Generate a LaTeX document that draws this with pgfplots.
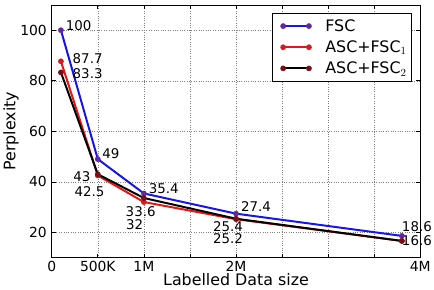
\documentclass[border=0pt]{standalone}
\usepackage{fontspec}
\setmainfont{DejaVu Sans}
\usepackage{pgfplots}
\pgfplotsset{compat=1.18}

\definecolor{fscline}{RGB}{20,20,235}
\definecolor{fscmark}{RGB}{95,40,160}
\definecolor{ascone}{RGB}{235,20,20}
\definecolor{asconemark}{RGB}{215,25,30}
\definecolor{asctwomark}{RGB}{120,15,20}

\begin{document}
\begin{tikzpicture}
\begin{axis}[
  scale only axis,
  width=372bp, height=255bp,
  xmin=0, xmax=4, ymin=10, ymax=110,
  xtick={0,0.5,1,1.5,2,2.5,3,3.5,4},
  xticklabels={0,500K,1M,,2M,,,,4M},
  ytick={20,40,60,80,100},
  /pgf/number format/assume math mode=true,
  tick align=inside,
  major tick length=4bp,
  tick style={black, line width=0.6bp},
  axis line style={line width=0.9bp},
  grid=major,
  major grid style={dotted, black!50, line width=0.5bp},
  tick label style={font=\fontsize{14bp}{16bp}\selectfont},
  yticklabel style={xshift=-1.5bp},
  xlabel={Labelled Data size},
  ylabel={Perplexity},
  label style={font=\fontsize{16bp}{18bp}\selectfont},
  xlabel style={at={(axis description cs:0.5,-0.111)}, anchor=base},
  ylabel style={at={(axis description cs:-0.0987,0.5)}, anchor=base, rotate=0},
  clip=false,
  legend cell align=left,
  legend style={at={(rel axis cs:1,1)}, anchor=north east,
    xshift=-8.5bp, yshift=-7.7bp,
    font=\fontsize{16bp}{18bp}\selectfont,
    draw=black, line width=0.9bp,
    inner xsep=3bp, inner ysep=4.5bp,
    row sep=4bp,
    /tikz/every odd column/.append style={column sep=12bp}},
  legend image code/.code={%
    \path (0bp,0bp);
    \draw[mark repeat=1,#1,line width=2bp] plot coordinates {(7bp,0bp) (33bp,0bp)};},
  every axis plot/.append style={line width=2bp},
]

\addplot[fscline, mark=*, mark size=2.6bp,
  mark options={fill=fscmark, draw=fscmark, line width=0.5bp}]
  coordinates {(0.1,100) (0.5,49) (1,35.4) (2,27.4) (3.8,18.6)};
\addlegendentry{FSC}

\addplot[ascone, mark=*, mark size=2.6bp,
  mark options={fill=asconemark, draw=asconemark, line width=0.5bp}]
  coordinates {(0.1,87.7) (0.5,42.5) (1,32) (2,25.2) (3.8,16.6)};
\addlegendentry{ASC+FSC$_1$}

\addplot[black, mark=*, mark size=2.6bp,
  mark options={fill=asctwomark, draw=asctwomark, line width=0.5bp}]
  coordinates {(0.1,83.3) (0.5,43) (1,33.6) (2,25.4) (3.8,16.6)};
\addlegendentry{ASC+FSC$_2$}

% value labels
\begin{scope}[every node/.style={inner sep=0pt, font=\fontsize{13.5bp}{15bp}\selectfont}]
\node[anchor=west]   at (axis cs:0.151,101.9) {100};
\node[anchor=west]   at (axis cs:0.226,88.8)  {87.7};
\node[anchor=west]   at (axis cs:0.226,82.9) {83.3};
\node[anchor=west]   at (axis cs:0.548,51.06) {49};
\node[anchor=east]   at (axis cs:0.423,42.0) {43};
\node[anchor=center] at (axis cs:0.409,36.1) {42.5};
\node[anchor=west]   at (axis cs:1.051,37.45) {35.4};
\node[anchor=center] at (axis cs:0.965,28.4) {33.6};
\node[anchor=west]   at (axis cs:0.806,22.9) {32};
\node[anchor=west]   at (axis cs:2.054,30.27) {27.4};
\node[anchor=center] at (axis cs:1.914,22.4) {25.4};
\node[anchor=center] at (axis cs:1.914,17.5) {25.2};
\node[anchor=west]   at (axis cs:3.799,22.3) {18.6};
\node[anchor=west]   at (axis cs:3.799,16.6) {16.6};
\end{scope}

% margins around the plot area
\path (rel axis cs:0,1) ++(-50bp,5bp);
\path (rel axis cs:1,0) ++(12bp,-32bp);
\end{axis}
\end{tikzpicture}
\end{document}
